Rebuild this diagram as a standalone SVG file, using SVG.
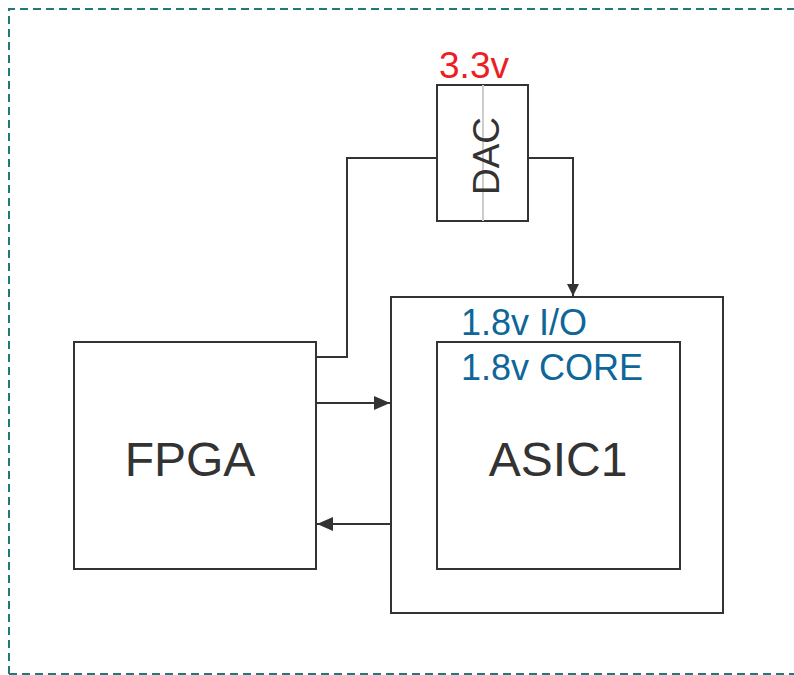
<svg xmlns="http://www.w3.org/2000/svg" width="794" height="675" viewBox="0 0 794 675">
<defs>
<marker id="arr" viewBox="0 0 16 14" markerWidth="16" markerHeight="14" refX="16" refY="7" orient="auto" markerUnits="userSpaceOnUse">
<path d="M0,0 L16,7 L0,14 Z" fill="#333"/>
</marker>
<marker id="arrs" viewBox="0 0 12 12" markerWidth="12" markerHeight="12" refX="12" refY="6" orient="auto" markerUnits="userSpaceOnUse">
<path d="M0,0 L12,6 L0,12 Z" fill="#333"/>
</marker>
</defs>
<style>
.box{fill:#fff;stroke:#333;stroke-width:2}
.wire{fill:none;stroke:#333;stroke-width:2}
.lbl{font-family:"Liberation Sans",Arial,sans-serif;fill:#333}
.blue{font-family:"Liberation Sans",Arial,sans-serif;fill:#0e6699;font-size:36px}
</style>
<rect width="794" height="675" fill="#fff"/>
<path d="M9,674 L9,9 L794,9 M9,674 L794,674" fill="none" stroke="#22787a" stroke-width="2" stroke-dasharray="8,5"/>
<g id="fpga">
<rect class="box" x="74" y="342" width="242" height="227"/>
<text class="lbl" x="190" y="476" font-size="48" text-anchor="middle">FPGA</text>
</g>
<g id="asic-io">
<rect class="box" x="391" y="297" width="332" height="316"/>
<text class="blue" x="461" y="335">1.8v I/O</text>
</g>
<g id="asic-core">
<rect class="box" x="437" y="342" width="243" height="227"/>
<text class="blue" x="461" y="380">1.8v CORE</text>
<text class="lbl" x="558" y="476" font-size="48" text-anchor="middle">ASIC1</text>
</g>
<g id="dac">
<rect class="box" x="437" y="85" width="91" height="136"/>
<line x1="483" y1="85" x2="483" y2="221" stroke="#d0ccc8" stroke-width="2"/>
<text class="lbl" x="0" y="0" font-size="37" text-anchor="middle" transform="translate(499,156) rotate(-90)">DAC</text>
<text x="474" y="78" font-family="Liberation Sans,Arial,sans-serif" font-size="37" fill="#ee1c24" text-anchor="middle">3.3v</text>
</g>
<g id="connectors">
<polyline class="wire" points="316,357 347,357 347,158 437,158"/>
<polyline class="wire" points="528,158 573,158 573,296" marker-end="url(#arrs)"/>
<line class="wire" x1="316" y1="403" x2="390" y2="403" marker-end="url(#arr)"/>
<line class="wire" x1="391" y1="524" x2="317" y2="524" marker-end="url(#arr)"/>
</g>
</svg>
